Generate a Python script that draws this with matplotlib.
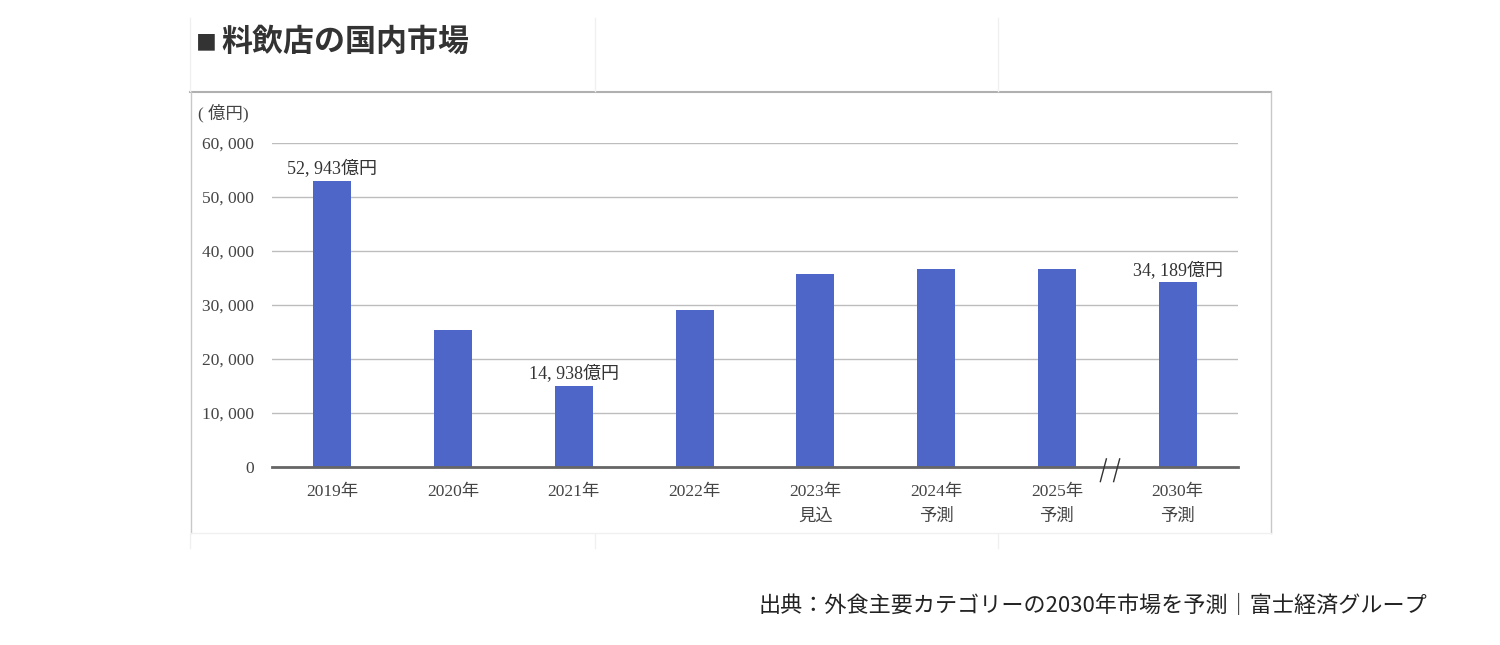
import matplotlib.pyplot as plt
import matplotlib.transforms as mtransforms
from matplotlib.lines import Line2D

# データ
years = ['2019年', '2020年', '2021年', '2022年', '2023年\n見込', '2024年\n予測', '2025年\n予測', '2030年\n予測']
values = [52943, 25400, 14938, 29100, 35800, 36600, 36600, 34189]
labeled = {0: '52, 943億円', 2: '14, 938億円', 7: '34, 189億円'}
yticks = [0, 10000, 20000, 30000, 40000, 50000, 60000]

serif = ['Liberation Serif', 'Noto Sans CJK JP']
sans = ['Noto Sans CJK JP', 'DejaVu Sans']
plt.rcParams['font.family'] = serif

W, H = 1500, 645
fig = plt.figure(figsize=(15, 6.45), dpi=100)

def fx(px):
    return px / W

def fy(py):
    return 1 - py / H

# 枠
frame_col = '#c8c8c8'
fig.add_artist(Line2D([fx(190), fx(1271)], [fy(92), fy(92)], color='#b0b0b0', lw=1.5))
fig.add_artist(Line2D([fx(191), fx(191)], [fy(92), fy(533)], color=frame_col, lw=1))
fig.add_artist(Line2D([fx(1271), fx(1271)], [fy(92), fy(533)], color=frame_col, lw=1))
fig.add_artist(Line2D([fx(191), fx(1271)], [fy(533), fy(533)], color='#f0f0f0', lw=1))
for xp in [190, 595, 998]:
    fig.add_artist(Line2D([fx(xp), fx(xp)], [fy(18), fy(91)], color='#f0f0f0', lw=1))
    fig.add_artist(Line2D([fx(xp), fx(xp)], [fy(534), fy(548)], color='#f0f0f0', lw=1))

# タイトル
fig.text(fx(196), fy(43), '■', fontsize=15, family=sans, color='#333333',
         ha='left', va='center')
fig.text(fx(221), fy(42), '料飲店の国内市場', fontsize=22.3, fontweight='bold',
         family=sans, color='#333333', ha='left', va='center')

# 単位
fig.text(fx(198), fy(113), '( 億円)', fontsize=12.5, color='#444444', ha='left', va='center')

# グラフ本体
ax = fig.add_axes([fx(272), fy(467), fx(1238 - 272), (467 - 143) / H])
x = list(range(len(years)))
ax.bar(x, values, width=0.315, color='#4d66c8', zorder=3)
ax.set_xlim(-0.5, len(years) - 0.5)
ax.set_ylim(0, 60000)
ax.set_yticks(yticks)
ax.set_yticklabels([f'{v:,}'.replace(',', ', ') for v in yticks], fontsize=12.5, color='#444444')
ax.set_xticks(x)
ax.set_xticklabels(years, fontsize=12.5, color='#444444', linespacing=1.75, va='top')
ax.tick_params(axis='both', length=0)
ax.tick_params(axis='y', pad=13)
ax.tick_params(axis='x', pad=12)
ax.yaxis.grid(True, color='#bdbdbd', lw=1, zorder=0)
for s in ['top', 'right', 'left']:
    ax.spines[s].set_visible(False)
ax.spines['bottom'].set_color('#666666')
ax.spines['bottom'].set_linewidth(2)
ax.spines['bottom'].set_zorder(4)

for i, txt in labeled.items():
    ax.annotate(txt, (x[i], values[i]), xytext=(0, 2), textcoords='offset points',
                ha='center', va='bottom', fontsize=13, color='#333333')

# 省略記号 //
trans = mtransforms.blended_transform_factory(ax.transData, ax.transAxes)
for dx in [-0.09, 0.02]:
    ax.add_line(Line2D([6.45 + dx, 6.5 + dx], [-0.045, 0.025], transform=trans,
                       color='#333333', lw=1, clip_on=False, zorder=5))

# 出典
fig.text(fx(1427), fy(606), '出典：外食主要カテゴリーの2030年市場を予測｜富士経済グループ',
         fontsize=15.9, family=sans, color='#222222', ha='right', va='center')

fig.savefig('out.png', dpi=100, facecolor='white')
